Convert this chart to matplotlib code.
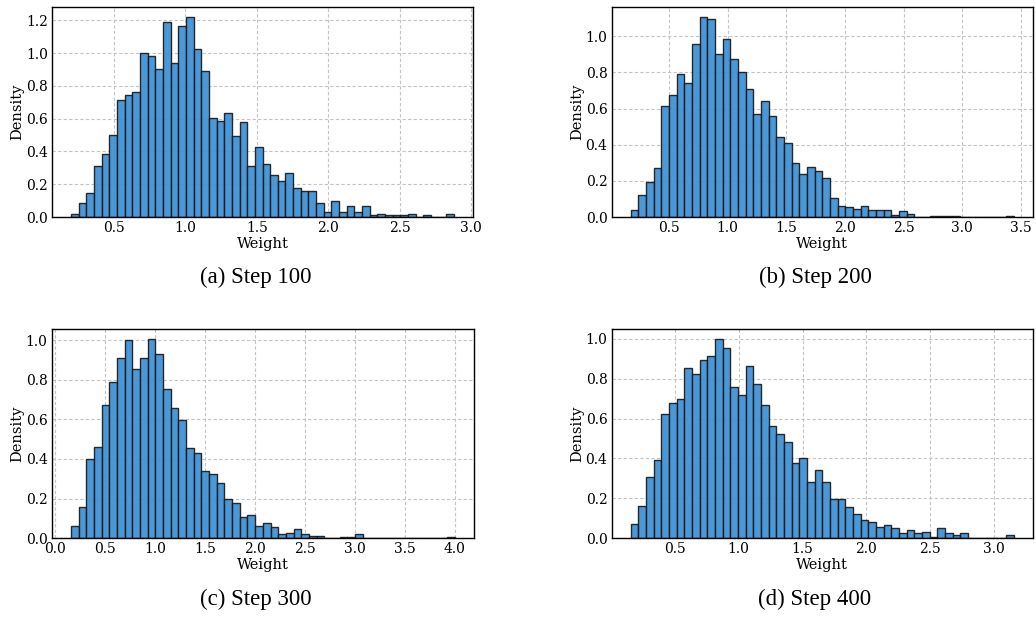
import numpy as np
import matplotlib.pyplot as plt

# Histogram densities (50 equal bins between min and max)
range_100 = (0.20, 2.88)
dens_100 = [0.020, 0.085, 0.146, 0.311, 0.384, 0.502, 0.712, 0.746, 0.765, 1.000,
            0.980, 0.900, 1.190, 0.940, 1.163, 1.220, 1.027, 0.893, 0.602, 0.584,
            0.637, 0.494, 0.582, 0.309, 0.429, 0.321, 0.256, 0.218, 0.266, 0.175,
            0.157, 0.157, 0.085, 0.030, 0.100, 0.030, 0.065, 0.030, 0.065, 0.010,
            0.018, 0.010, 0.010, 0.010, 0.018, 0.000, 0.010, 0.000, 0.000, 0.018]

range_200 = (0.175, 3.44)
dens_200 = [0.037, 0.120, 0.194, 0.269, 0.613, 0.673, 0.792, 0.740, 0.958, 1.107,
            1.098, 0.904, 0.985, 0.873, 0.800, 0.708, 0.568, 0.642, 0.561, 0.443,
            0.411, 0.299, 0.240, 0.277, 0.255, 0.216, 0.103, 0.059, 0.054, 0.044,
            0.059, 0.037, 0.037, 0.037, 0.009, 0.031, 0.015, 0.000, 0.000, 0.007,
            0.007, 0.007, 0.007, 0.000, 0.000, 0.000, 0.000, 0.000, 0.000, 0.007]

range_300 = (0.16, 4.00)
dens_300 = [0.064, 0.158, 0.400, 0.462, 0.671, 0.787, 0.911, 0.998, 0.854, 0.911,
            1.007, 0.931, 0.753, 0.659, 0.597, 0.457, 0.430, 0.341, 0.323, 0.277,
            0.200, 0.176, 0.108, 0.119, 0.064, 0.076, 0.057, 0.020, 0.025, 0.045,
            0.020, 0.013, 0.013, 0.000, 0.000, 0.007, 0.007, 0.020, 0.000, 0.000,
            0.000, 0.000, 0.000, 0.000, 0.000, 0.000, 0.000, 0.000, 0.000, 0.007]

range_400 = (0.156, 3.154)
dens_400 = [0.074, 0.164, 0.309, 0.390, 0.625, 0.676, 0.700, 0.855, 0.821, 0.895,
            0.911, 1.000, 0.951, 0.756, 0.716, 0.861, 0.773, 0.666, 0.560, 0.520,
            0.480, 0.375, 0.400, 0.284, 0.341, 0.284, 0.196, 0.196, 0.156, 0.124,
            0.090, 0.082, 0.057, 0.065, 0.050, 0.025, 0.040, 0.025, 0.033, 0.008,
            0.050, 0.025, 0.017, 0.025, 0.000, 0.000, 0.000, 0.000, 0.000, 0.017]

captions = ['(a) Step 100', '(b) Step 200', '(c) Step 300', '(d) Step 400']
ranges = [range_100, range_200, range_300, range_400]
densities = [dens_100, dens_200, dens_300, dens_400]

plt.rcParams['font.family'] = 'DejaVu Serif'

fig = plt.figure(figsize=(10.36, 6.19), dpi=100)

positions = [
    [0.0502, 0.6494, 0.4064, 0.3393],
    [0.5904, 0.6494, 0.4067, 0.3393],
    [0.0499, 0.1304, 0.4076, 0.3386],
    [0.5904, 0.1304, 0.4067, 0.3386],
]
caption_xy = [(0.2466, 0.5525), (0.7867, 0.5525), (0.2466, 0.031), (0.7867, 0.031)]

for pos, rng, dens, cap, cxy in zip(positions, ranges, densities, captions, caption_xy):
    ax = fig.add_axes(pos)
    edges = np.linspace(rng[0], rng[1], len(dens) + 1)
    centers = (edges[:-1] + edges[1:]) / 2
    ax.hist(centers, bins=edges, weights=dens, color='#3a8fd4', edgecolor='#1a1a1a',
            linewidth=1.0, alpha=0.92)
    ax.set_axisbelow(True)
    ax.grid(True, linestyle=(0, (3, 2)), color='#c4c4c4', linewidth=0.8)
    ax.tick_params(length=0, pad=3, labelsize=10)
    for s in ax.spines.values():
        s.set_color('black')
        s.set_linewidth(1.0)
    ax.set_xlabel('Weight', fontsize=10.5, labelpad=1)
    ax.set_ylabel('Density', fontsize=10.5, labelpad=1)
    fig.text(cxy[0], cxy[1], cap, ha='center', va='center', fontsize=16.5,
             family='Liberation Serif')

fig.savefig('out.png', dpi=100)
